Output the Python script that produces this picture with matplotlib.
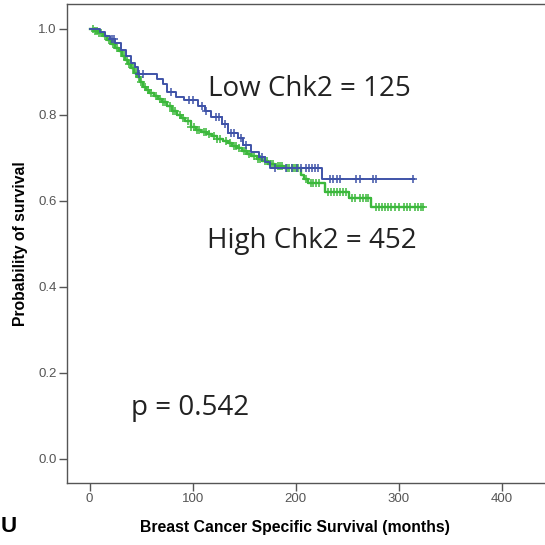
import matplotlib
matplotlib.use("Agg")
import matplotlib.pyplot as plt
import numpy as np

# Low Chk2 (n=125): step times (months) and survival after each step
blue_t = [0, 10, 15, 20, 25, 30, 35, 40, 44, 47, 65, 71, 75, 84, 92, 105, 112,
          118, 128, 134, 144, 149, 157, 164, 170, 175, 226]
blue_s = [1.0, 0.992, 0.984, 0.976, 0.968, 0.952, 0.936, 0.920, 0.912, 0.896,
          0.884, 0.872, 0.853, 0.842, 0.835, 0.820, 0.808, 0.795, 0.780, 0.758,
          0.746, 0.730, 0.714, 0.702, 0.690, 0.677, 0.651]
blue_end = 315
blue_cens = [22, 24, 48, 52, 79, 96, 100, 109, 113, 123, 126, 131, 137, 140, 147,
             152, 167, 180, 191, 196, 201, 205, 210, 213, 216, 219, 222, 233, 236,
             240, 243, 259, 262, 275, 278, 314]

# High Chk2 (n=452)
green_t = [0, 5, 9, 13, 17, 21, 25, 28, 31, 34, 37, 40, 43, 46, 49, 52, 55, 58,
           62, 66, 70, 75, 80, 85, 89, 93, 98, 103, 108, 114, 119, 124, 129, 134,
           138, 143, 148, 153, 157, 162, 167, 173, 180, 189, 205, 208, 212, 228,
           252, 273]
green_s = [1.0, 0.996, 0.990, 0.983, 0.975, 0.966, 0.956, 0.948, 0.938, 0.928,
           0.918, 0.908, 0.898, 0.888, 0.877, 0.866, 0.858, 0.850, 0.843, 0.837,
           0.830, 0.820, 0.810, 0.800, 0.793, 0.785, 0.773, 0.765, 0.760, 0.755,
           0.750, 0.745, 0.740, 0.734, 0.728, 0.722, 0.716, 0.709, 0.704, 0.698,
           0.692, 0.685, 0.681, 0.677, 0.660, 0.650, 0.642, 0.621, 0.607, 0.586]
green_end = 324
green_cens = [3, 5, 7, 9, 11, 15, 19, 23, 27, 30, 33, 36, 38, 42, 45, 48, 50, 54,
              57, 60, 64, 68, 71, 73, 78, 81, 83, 88, 91, 95, 98, 101, 104, 106,
              111, 113, 116, 121, 124, 127, 132, 136, 140, 142, 145, 150, 152, 155,
              160, 163, 165, 170, 172, 176, 178, 183, 185, 187, 192, 194, 196, 198,
              200, 202, 210, 215, 217, 220, 223, 231, 234, 237, 240, 243, 246, 249,
              255, 258, 262, 265, 268, 270, 278, 281, 284, 287, 290, 293, 296, 300,
              305, 308, 311, 316, 319, 322, 324]

x_ticks = [0, 100, 200, 300, 400]
y_ticks = [0.0, 0.2, 0.4, 0.6, 0.8, 1.0]

BLUE = '#3f53a8'
GREEN = '#3cb83c'


def km_curve(ax, t, s, end, cens, color, lw):
    tt = list(t) + [end]
    ss = list(s) + [s[-1]]
    ax.step(tt, ss, where='post', color=color, lw=lw)
    idx = np.searchsorted(t, cens, side='right') - 1
    cy = np.array(s)[idx]
    ax.plot(cens, cy, ls='none', marker='+', ms=6, mew=1.1, color=color)


fig = plt.figure(figsize=(5.45, 5.45), dpi=100)
ax = fig.add_axes([67 / 545, 62 / 545, 480 / 545, 479 / 545])

km_curve(ax, green_t, green_s, green_end, green_cens, GREEN, 1.7)
km_curve(ax, blue_t, blue_s, blue_end, blue_cens, BLUE, 1.4)

ax.set_xlim(-22, 444)
ax.set_ylim(-0.056, 1.058)
ax.set_xticks(x_ticks)
ax.set_yticks(y_ticks)
ax.set_xticklabels([str(v) for v in x_ticks])
ax.set_yticklabels(['%.1f' % v for v in y_ticks])

for sp in ['left', 'bottom', 'top']:
    ax.spines[sp].set_color('#555555')
    ax.spines[sp].set_linewidth(1.0)
ax.spines['right'].set_visible(False)
ax.tick_params(direction='out', length=6, width=1, color='#555555',
               labelcolor='#555555', labelsize=9.5, pad=1.5)
for lab in ax.get_xticklabels() + ax.get_yticklabels():
    lab.set_family('Liberation Sans')

ax.set_xlabel('Breast Cancer Specific Survival (months)', fontsize=11.3,
              fontweight='bold', family='Liberation Sans')
ax.xaxis.set_label_coords(0.475, -0.078)
ax.set_ylabel('Probability of survival', fontsize=11.3, fontweight='bold',
              family='Liberation Sans')
ax.yaxis.set_label_coords(-0.081, 0.5)

ax.text(115, 0.86, 'Low Chk2 = 125', fontsize=20, family='Open Sans',
        va='center', ha='left', color='#222222')
ax.text(114, 0.507, 'High Chk2 = 452', fontsize=20, family='Open Sans',
        va='center', ha='left', color='#222222')
ax.text(40, 0.119, 'p = 0.542', fontsize=20, family='Open Sans',
        va='center', ha='left', color='#222222')

fig.text(0.002, 1 - 527 / 545, 'U', fontsize=16, fontweight='bold',
         family='Liberation Sans', va='center', ha='left')

fig.savefig('out.png', dpi=100)
